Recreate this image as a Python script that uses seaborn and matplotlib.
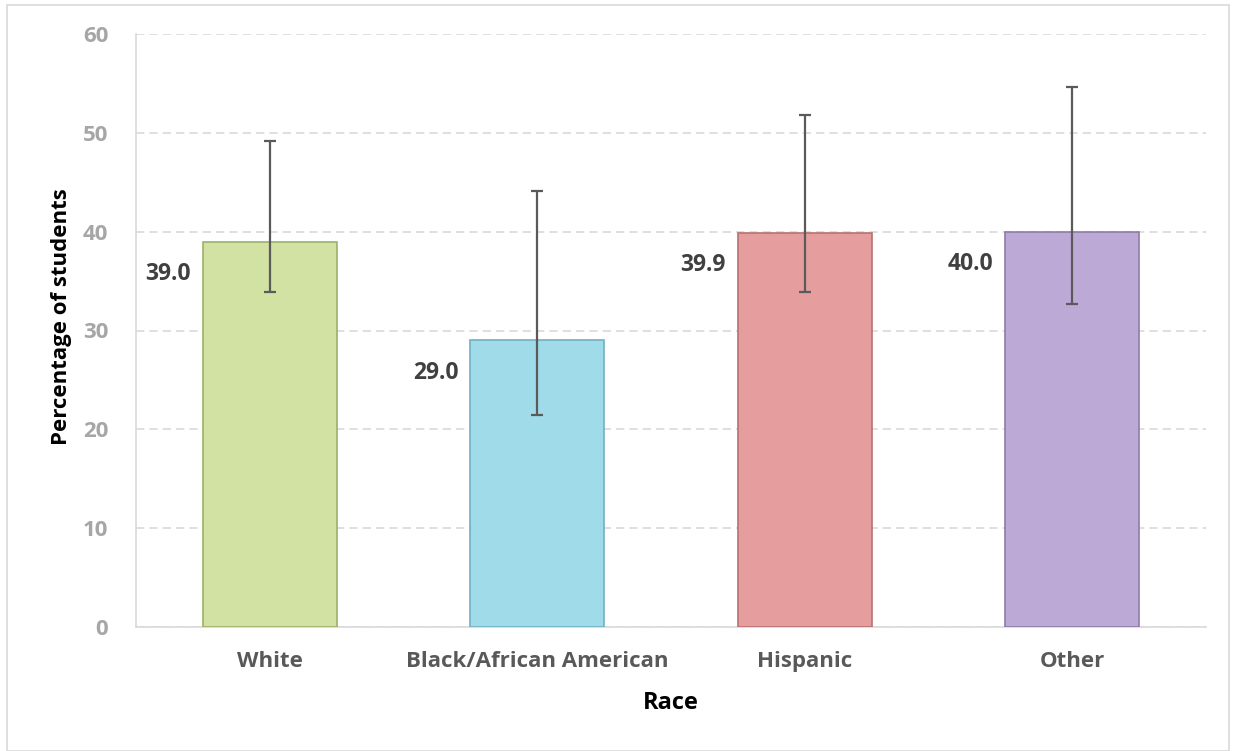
# Bar chart: percentage of students by race, with error bars
import pandas as pd
import matplotlib.pyplot as plt
import seaborn as sns
from matplotlib.patches import Rectangle

races = ["White", "Black/African American", "Hispanic", "Other"]
pct = [39.0, 29.0, 39.9, 40.0]
ci_low = [33.9, 21.5, 33.9, 32.7]
ci_high = [49.2, 44.1, 51.8, 54.6]
bar_colors = ["#D1E2A3", "#A0DBEA", "#E59E9D", "#BDA9D5"]
edge_colors = ["#9DB06A", "#6FB0C2", "#B87070", "#8E7BA8"]

df = pd.DataFrame({"race": races, "pct": pct})

sns.set_style("white")
plt.rcParams["font.family"] = ["Open Sans", "DejaVu Sans"]

fig = plt.figure(figsize=(12.36, 7.51), dpi=100)
ax = fig.add_axes([136 / 1236, 1 - 627 / 751, 1070 / 1236, 593 / 751])

sns.barplot(data=df, x="race", y="pct", hue="race", palette=bar_colors,
            saturation=1, width=0.5, legend=False, ax=ax, zorder=3)
for patch, ec in zip(ax.patches, edge_colors):
    patch.set_edgecolor(ec)
    patch.set_linewidth(1.2)

xs = range(len(races))
lower = [p - lo for p, lo in zip(pct, ci_low)]
upper = [hi - p for p, hi in zip(pct, ci_high)]
ax.errorbar(xs, pct, yerr=[lower, upper], fmt="none", ecolor="#5A5A5A",
            elinewidth=1.6, capsize=4.5, capthick=1.6, zorder=4)

for x, v in zip(xs, pct):
    ax.text(x - 0.295, v - 3.3, f"{v:.1f}", ha="right", va="center",
            fontsize=16.5, fontweight="bold", color="#404040")

ax.set_ylim(0, 60)
ax.set_xlim(-0.5, 3.5)
ax.set_yticks(range(0, 61, 10))
ax.yaxis.grid(True, linestyle=(0, (5, 3)), color="#D9D9D9", linewidth=1.2, zorder=0)
ax.xaxis.grid(False)
for side in ["top", "right"]:
    ax.spines[side].set_visible(False)
for side in ["left", "bottom"]:
    ax.spines[side].set_color("#D9D9D9")
    ax.spines[side].set_linewidth(1.2)

ax.tick_params(axis="y", length=0, pad=20, labelsize=16, labelcolor="#A6A6A6")
ax.tick_params(axis="x", length=0, pad=17, labelsize=16, labelcolor="#595959")
for lab in ax.get_yticklabels() + ax.get_xticklabels():
    lab.set_fontweight("bold")

ax.set_xlabel("Race", fontsize=17, fontweight="bold", color="black", labelpad=14)
ax.set_ylabel("Percentage of students", fontsize=16, fontweight="bold",
              color="black", va="center")
ax.yaxis.set_label_coords(-0.070, 0.523)

fig.patches.append(Rectangle((7 / 1236, 0.0), 1 - 14 / 1236, 1 - 5 / 751,
                             transform=fig.transFigure, fill=False,
                             edgecolor="#D9D9D9", linewidth=1.2))

fig.savefig("out.png", dpi=100)
